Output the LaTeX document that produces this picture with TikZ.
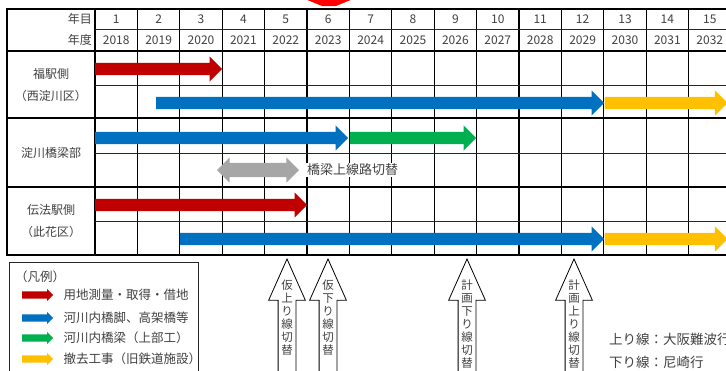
\documentclass[tikz,border=0pt]{standalone}
\usepackage{fontspec}
\setmainfont{Noto Sans CJK JP}
\usepackage{tikz}
\usetikzlibrary{shapes, arrows, positioning}

\definecolor{barred}{HTML}{C00000}
\definecolor{barblue}{HTML}{0070C0}
\definecolor{bargreen}{HTML}{00B050}
\definecolor{baryellow}{HTML}{FFC000}
\definecolor{bargray}{HTML}{A6A6A6}
\definecolor{markred}{HTML}{FF0000}
\definecolor{txt}{HTML}{404040}

\tikzset{
    gridline/.style={line width=1.3pt, black},
    rowline/.style={line width=0.9pt, black!85},
    cell/.style={font=\fontsize{12}{14}\selectfont, text=txt, inner sep=0pt},
    legtext/.style={font=\fontsize{12.5}{15}\selectfont, text=txt, inner sep=0pt},
    bar/.style={single arrow, fill=#1, draw=none, inner sep=6pt, single arrow head extend=6.5pt, single arrow tip angle=90, anchor=tail},
    legbar/.style={single arrow, fill=#1, draw=none, inner sep=3.5pt, single arrow head extend=2.5pt, single arrow tip angle=90, minimum height=31pt, anchor=tail},
    switcharrow/.style={single arrow, shape border rotate=90, draw=black, fill=white, line width=0.8pt, inner sep=8.5pt, single arrow head extend=9.5pt, single arrow tip angle=48, minimum height=125pt, anchor=tip},
    vtext/.style={font=\fontsize{11.5}{13}\selectfont, text=txt, align=center, inner sep=0pt}
}

\begin{document}
\begin{tikzpicture}[x=1pt, y=-1pt]
        \useasboundingbox (0,0) rectangle (726,370);
        \clip (0,0) rectangle (726,370);

        \fill [markred] (305,-1) -- (353,-1) -- (336,6) -- (322,6) -- cycle;

        \draw [gridline] (7,9) rectangle (731,255);
        \foreach \i in {0,...,14}
            \draw [gridline] (95+42.4*\i,9) -- (95+42.4*\i,255);
        \foreach \y in {51,118,187}
            \draw [gridline] (7,\y) -- (731,\y);
        \foreach \y in {29,85,153,221}
            \draw [rowline] (95,\y) -- (731,\y);

        \node (nenme) [cell, anchor=east] at (92,19) {年目};
        \node (nendo) [cell, anchor=east] at (92,40) {年度};
        \foreach \i [evaluate=\i as \yr using int(2017+\i)] in {1,...,15} {
            \node (n\i) [cell] at (95+42.4*\i-21.2,19) {\i};
            \node (y\i) [cell] at (95+42.4*\i-21.2,40) {\yr};
        }

        \node (fuku) [cell, align=center, font=\fontsize{12}{22}\selectfont] at (51,85) {福駅側\\（西淀川区）};
        \node (yodo) [cell] at (51,153) {淀川橋梁部};
        \node (denpo) [cell, align=center, font=\fontsize{12}{22}\selectfont] at (51,221) {伝法駅側\\（此花区）};

        \node (land1) [bar=barred, minimum height=127pt] at (95,69) {};
        \node (pier1) [bar=barblue, minimum height=448pt] at (156,103) {};
        \node (rem1) [bar=baryellow, minimum height=123pt] at (pier1.tip) {};
        \node (pier2) [bar=barblue, minimum height=253pt] at (95,138) {};
        \node (deck) [bar=bargreen, minimum height=126pt] at (350,138) {};
        \node (swap) [double arrow, fill=bargray, inner sep=7pt, double arrow head extend=5.5pt, minimum height=82pt] at (258,170) {};
        \node (swaplbl) [legtext, fill=white, inner sep=1pt, anchor=west, font=\fontsize{13}{15}\selectfont] at (306,170) {橋梁上線路切替};
        \node (land2) [bar=barred, minimum height=212pt] at (95,205) {};
        \node (pier3) [bar=barblue, minimum height=424pt] at (180,239) {};
        \node (rem2) [bar=baryellow, minimum height=123pt] at (pier3.tip) {};

        \draw [line width=0.9pt, black!85] (9,262) rectangle (198,380);
        \node (legtitle) [legtext, anchor=west] at (15,277) {（凡例）};
        \node (leg1) [legbar=barred] at (22,295) {};
        \node (leg2) [legbar=barblue] at (22,318) {};
        \node (leg3) [legbar=bargreen] at (22,338) {};
        \node (leg4) [legbar=baryellow] at (22,359) {};
        \node (legt1) [legtext, right=10pt of leg1.tip] {用地測量・取得・借地};
        \node (legt2) [legtext, right=10pt of leg2.tip] {河川内橋脚、高架橋等};
        \node (legt3) [legtext, right=10pt of leg3.tip] {河川内橋梁（上部工）};
        \node (legt4) [legtext, right=10pt of leg4.tip] {撤去工事（旧鉄道施設）};

        \node (sw1) [switcharrow] at (287,258) {};
        \node (sw2) [switcharrow] at (328,258) {};
        \node (sw3) [switcharrow] at (467,258) {};
        \node (sw4) [switcharrow] at (574,258) {};
        \node (sw1t) [vtext, below=22pt of sw1.tip] {仮\\上\\り\\線\\切\\替};
        \node (sw2t) [vtext, below=22pt of sw2.tip] {仮\\下\\り\\線\\切\\替};
        \node (sw3t) [vtext, below=22pt of sw3.tip] {計\\画\\下\\り\\線\\切\\替};
        \node (sw4t) [vtext, below=22pt of sw4.tip] {計\\画\\上\\り\\線\\切\\替};

        \node (upline) [legtext, anchor=west, font=\fontsize{13.5}{16}\selectfont] at (609,339) {上り線：大阪難波行};
        \node (downline) [legtext, anchor=west, font=\fontsize{13.5}{16}\selectfont] at (609,362) {下り線：尼崎行};
    \end{tikzpicture}
\end{document}
